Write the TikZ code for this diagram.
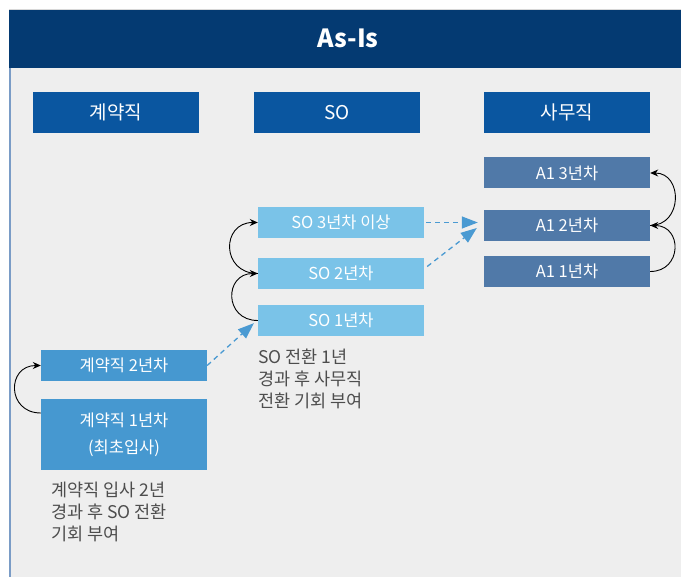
\documentclass[tikz,border=0pt]{standalone}
\usepackage{fontspec}
\setmainfont{Noto Sans CJK KR}
\usetikzlibrary{arrows.meta,calc}
\definecolor{navy}{HTML}{043A72}
\definecolor{colhead}{HTML}{0A56A0}
\definecolor{aone}{HTML}{5079A8}
\definecolor{sobox}{HTML}{7AC3E8}
\definecolor{kbox}{HTML}{4698D0}
\definecolor{bggray}{HTML}{EEEEEE}
\definecolor{leftline}{HTML}{7A9CC6}
\definecolor{topline}{HTML}{D8D8D8}
\definecolor{dashblue}{HTML}{4A9AD2}
\definecolor{notegray}{HTML}{4D4D4D}
\tikzset{
  colbox/.style={fill=colhead, text=white, minimum width=166pt, minimum height=41pt, inner sep=0pt, font=\fontsize{19}{22}\selectfont},
  stepbox/.style={text=white, minimum width=166pt, minimum height=31pt, inner sep=0pt, font=\fontsize{16.5}{19}\selectfont},
  notetext/.style={text=notegray, anchor=west, align=left, inner sep=0pt, font=\fontsize{17.5}{22}\selectfont},
  curvearrow/.style={draw=black, line width=0.9pt, -{Stealth[length=8pt,width=7pt]}},
  dasharrow/.style={draw=dashblue, line width=1.3pt, dash pattern=on 5pt off 4pt, -{Triangle[length=16pt,width=12pt]}}
}
\begin{document}
\begin{tikzpicture}[x=1pt,y=-1pt]
\useasboundingbox (0,0) rectangle (681,577);
\fill[white] (0,0) rectangle (681,577);
\fill[bggray] (9,68) rectangle (681,577);
\fill[navy] (9,10) rectangle (681,68);
\draw[topline, line width=0.8pt] (9,9.5) -- (681,9.5);
\fill[leftline] (9,68) rectangle (11,577);
\node[text=white, font=\fontsize{25}{28}\bfseries] (title) at (348,38) {As-Is};

\node[colbox] (hk) at (116,112.5) {계약직};
\node[colbox] (hs) at (337,112.5) {SO};
\node[colbox] (ha) at (567,112.5) {사무직};

\node[stepbox, fill=aone] (A3) at (567,173) {A1 3년차};
\node[stepbox, fill=aone] (A2) at (567,225.5) {A1 2년차};
\node[stepbox, fill=aone] (A1) at (567,271.5) {A1 1년차};

\node[stepbox, fill=sobox] (S3) at (341,222.5) {SO 3년차 이상};
\node[stepbox, fill=sobox] (S2) at (341,273.5) {SO 2년차};
\node[stepbox, fill=sobox] (S1) at (341,320.5) {SO 1년차};

\node[stepbox, fill=kbox] (K2) at (124,365.5) {계약직 2년차};
\node[stepbox, fill=kbox, minimum height=71pt, align=center, font=\fontsize{16.5}{27}\selectfont] (K1) at (124,434.5) {계약직 1년차\\(최초입사)};

\node[notetext] (snote) at (258,379) {SO 전환 1년\\경과 후 사무직\\전환 기회 부여};
\node[notetext] (knote) at (51,512) {계약직 입사 2년\\경과 후 SO 전환\\기회 부여};

\draw[curvearrow] ([yshift=21.5pt]K1.west) to[out=180,in=180,looseness=1.85] (K2.west);
\draw[curvearrow] (S1.west) to[out=180,in=180,looseness=1.85] (S2.west);
\draw[curvearrow] (S2.west) to[out=180,in=180,looseness=1.85] (S3.west);
\draw[curvearrow] (A1.east) to[out=0,in=0,looseness=1.8] (A2.east);
\draw[curvearrow] (A2.east) to[out=0,in=0,looseness=1.6] (A3.east);

\draw[dasharrow] (K2.east) -- ([xshift=-4pt,yshift=13pt]S1.south west);
\draw[dasharrow] ([xshift=3pt,yshift=7pt]S2.east) -- ([xshift=-7pt,yshift=-2.5pt]A2.west);
\draw[dasharrow] ([xshift=2pt]S3.east) -- ([xshift=-6pt,yshift=3pt]A2.west);
\end{tikzpicture}
\end{document}
